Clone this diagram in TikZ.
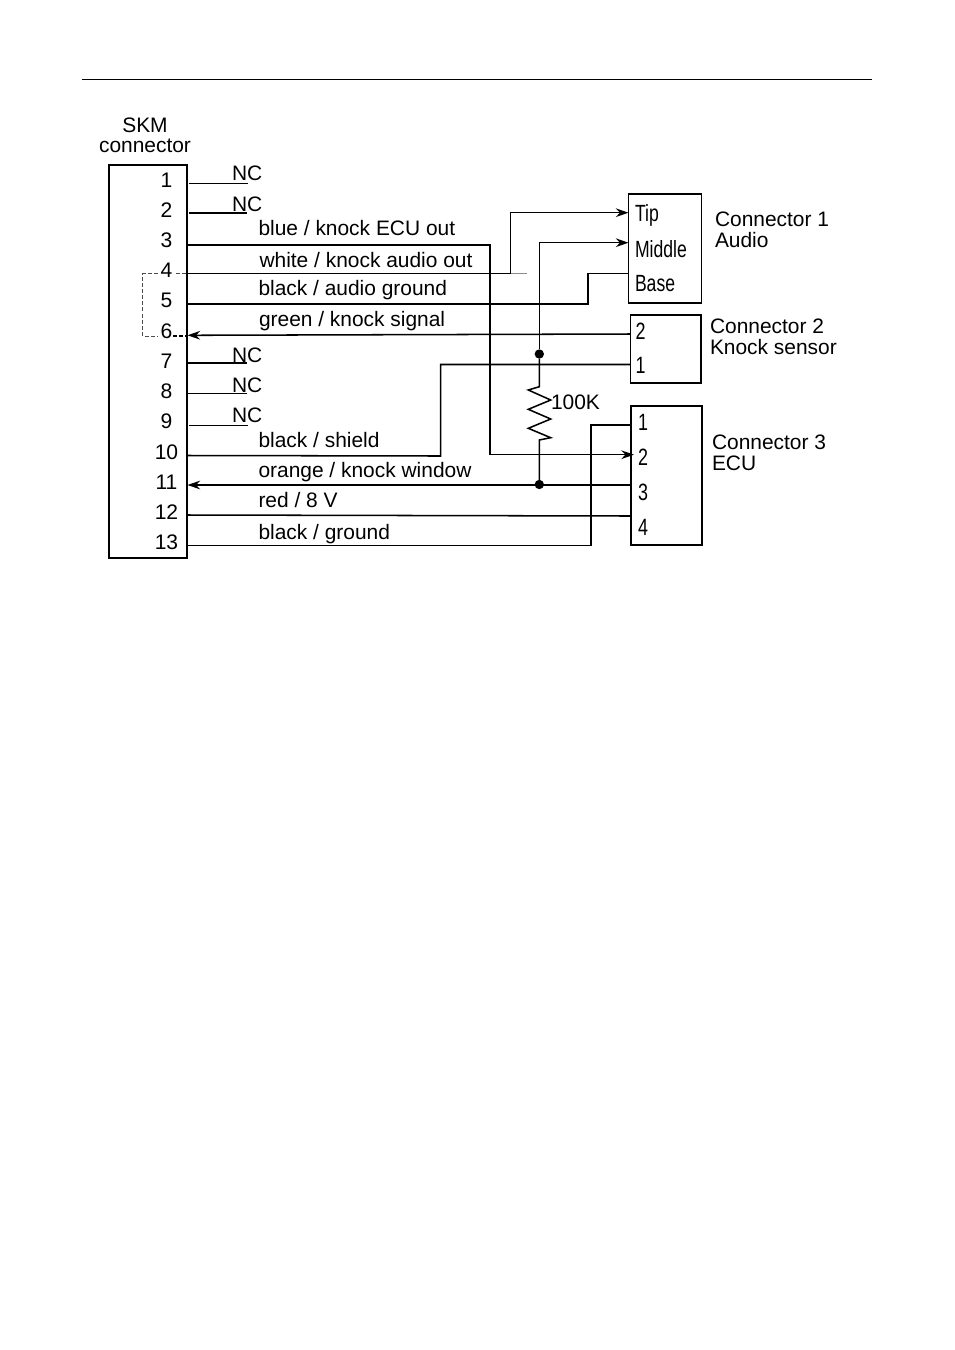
\documentclass[tikz,border=0pt]{standalone}
\usepackage{fontspec}
\setmainfont{Liberation Sans}
\usetikzlibrary{arrows.meta}
\tikzset{
  every node/.style={inner sep=0pt,outer sep=0pt,font=\fontsize{15.7pt}{18pt}\selectfont},
  lab/.style={anchor=base west},
  num/.style={anchor=base,font=\fontsize{15.8pt}{18pt}\selectfont},
  conbox/.style={draw=black,line width=1.25pt,anchor=north west},
  wire/.style={line width=1.15pt,line join=miter},
  thinw/.style={line width=0.6pt},
  medw/.style={line width=1.15pt},
  arr/.style={wire,-{Stealth[length=9.5pt,width=6.5pt]}},
  jumper/.style={line width=0.6pt,dash pattern=on 3pt off 1.6pt,draw=black!70},
  dot/.style={circle,fill=black,minimum size=7pt},
}
\newcommand{\nar}[1]{\scalebox{0.84}[1.12]{#1}}
\newcommand{\dig}[1]{\scalebox{0.85}[1.12]{#1}}
\begin{document}
\begin{tikzpicture}[x=0.75pt,y=-0.75pt]
\useasboundingbox (0,0) rectangle (954,1350);
\fill[white] (0,0) rectangle (954,1350);
% header rule
\coordinate (ruleL) at (82,79.5);
\coordinate (ruleR) at (872,79.5);
\draw[line width=0.6pt] (ruleL) -- (ruleR);
% boxes
\node[conbox,minimum width=58.5pt,minimum height=294.8pt] (skm) at (109,165) {};
\node[conbox,minimum width=54.8pt,minimum height=81.5pt] (c1) at (628.5,194) {};
\node[conbox,minimum width=52.8pt,minimum height=51.2pt] (c2) at (630.5,315) {};
\node[conbox,minimum width=53.2pt,minimum height=104.2pt] (c3) at (631,406) {};
% titles
\node[anchor=base] (t1) at (145,132) {SKM};
\node[anchor=base] (t2) at (145,152.5) {connector};
% pin numbers
\node[num] (n1) at (166.5,187) {1};
\node[num] (n2) at (166.5,217) {2};
\node[num] (n3) at (166.5,247) {3};
\node[num] (n4) at (166.5,277.5) {4};
\node[num] (n5) at (166.5,307.5) {5};
\node[num] (n6) at (166.5,338) {6};
\node[num] (n7) at (166.5,368) {7};
\node[num] (n8) at (166.5,398) {8};
\node[num] (n9) at (166.5,428) {9};
\node[num] (n10) at (166.5,459) {10};
\node[num] (n11) at (166.5,489) {11};
\node[num] (n12) at (166.5,519) {12};
\node[num] (n13) at (166.5,549) {13};
% NC labels
\node[lab] (nc1) at (232,180.5) {NC};
\node[lab] (nc2) at (232,211) {NC};
\node[lab] (nc7) at (232,362) {NC};
\node[lab] (nc8) at (232,392) {NC};
\node[lab] (nc9) at (232,422) {NC};
% wire labels
\node[lab] (l3) at (258.5,235) {blue / knock ECU out};
\node[lab] (l4) at (259.5,267.5) {white / knock audio out};
\node[lab] (l5) at (258.5,295.5) {black / audio ground};
\node[lab] (l6) at (259,326) {green / knock signal};
\node[lab] (l10) at (258.5,447) {black / shield};
\node[lab] (l11) at (258.5,477.5) {orange / knock window};
\node[lab] (l12) at (258.5,507) {red / 8 V};
\node[lab] (l13) at (258.5,539) {black / ground};
% connector labels
\node[lab] (cl1) at (715,226) {Connector 1};
\node[lab] (cl1b) at (715,247) {Audio};
\node[lab] (cl2) at (710,333) {Connector 2};
\node[lab] (cl2b) at (710,354) {Knock sensor};
\node[lab] (cl3) at (712,449) {Connector 3};
\node[lab] (cl3b) at (712,470) {ECU};
\node[lab] (rv) at (551,409) {100K};
% inner labels
\node[lab] (tip) at (635,221) {\nar{Tip}};
\node[lab] (mid) at (635,257) {\nar{Middle}};
\node[lab] (bas) at (635,291) {\nar{Base}};
\node[num] (k2) at (640.5,339) {\dig{2}};
\node[num] (k1) at (640.5,373.5) {\dig{1}};
\node[num] (e1) at (643,430.5) {\dig{1}};
\node[num] (e2) at (643,465) {\dig{2}};
\node[num] (e3) at (643,500) {\dig{3}};
\node[num] (e4) at (643,535.5) {\dig{4}};
% coordinates
\coordinate (a1) at (189,183);   \coordinate (b1) at (248,183);
\coordinate (a2) at (189,213);   \coordinate (b2) at (247,213);
\coordinate (a7) at (187,363);   \coordinate (b7) at (247,363);
\coordinate (a8) at (187,393.5); \coordinate (b8) at (247,393.5);
\coordinate (a9) at (189,425.5); \coordinate (b9) at (248,425.5);
\coordinate (p3) at (187,245);
\coordinate (v3t) at (490,245);
\coordinate (v3b) at (490,454.7);
\coordinate (e2p) at (634,454.7);
\coordinate (p4) at (187,273.5);
\coordinate (stub) at (527,273.5);
\coordinate (v4) at (510.5,273.5);
\coordinate (v4t) at (510.5,212.7);
\coordinate (tipP) at (628.5,212.7);
\coordinate (p5) at (187,304);
\coordinate (v5b) at (587.8,304);
\coordinate (v5t) at (587.8,273.5);
\coordinate (basP) at (628.5,273.5);
\coordinate (p6) at (187.5,335.3);
\coordinate (k2P) at (630.5,334);
\coordinate (k1P) at (630.5,364.5);
\coordinate (v10t) at (440.7,364.5);
\coordinate (v10b) at (440.7,456);
\coordinate (p10) at (187,455.5);
\coordinate (p11) at (187.5,485);
\coordinate (e3P) at (631,485);
\coordinate (p12) at (187,515);
\coordinate (e4P) at (631,516);
\coordinate (p13) at (187,545.5);
\coordinate (v13b) at (591,545.5);
\coordinate (v13t) at (591,425);
\coordinate (e1P) at (631,425);
\coordinate (midP) at (628.5,242.7);
\coordinate (midC) at (539.3,242.7);
\node[dot] (j1) at (539.3,354) {};
\node[dot] (j2) at (539.3,484.5) {};
% NC stubs
\draw[thinw] (a1) -- (b1);
\draw[medw] (a2) -- (b2);
\draw[medw] (a7) -- (b7);
\draw[medw] (a8) -- (b8);
\draw[thinw] (a9) -- (b9);
% wires
\draw[wire] (p3) -- (v3t) -- (v3b);
\draw[arr] (v3b) -- (e2p);
\draw[wire] (p4) -- (v4);
\draw[line width=0.8pt,draw=black!45] (v4) -- (stub);
\draw[arr] (v4) -- (v4t) -- (tipP);
\draw[wire] (p5) -- (v5b) -- (v5t) -- (basP);
\draw[arr] (k2P) -- (p6);
\draw[wire] (k1P) -- (v10t) -- (v10b) -- (p10);
\draw[arr] (e3P) -- (p11);
\draw[wire] (p12) -- (e4P);
\draw[wire] (p13) -- (v13b) -- (v13t) -- (e1P);
\draw[arr] (j1) -- (midC) -- (midP);
% resistor
\coordinate (r0) at (539.3,386.7);
\coordinate (r1) at (528.3,390);
\coordinate (r2) at (550.7,400);
\coordinate (r3) at (528.3,409.3);
\coordinate (r4) at (550.7,419);
\coordinate (r5) at (528.3,428.3);
\coordinate (r6) at (550.7,437.7);
\coordinate (r7) at (539.3,440);
\draw[wire] (j1) -- (r0) -- (r1) -- (r2) -- (r3) -- (r4) -- (r5) -- (r6) -- (r7) -- (j2);
% jumper between pins 4 and 6
\coordinate (d1) at (186,273.5);
\coordinate (d2) at (174,273.5);
\coordinate (d3) at (158,273.5);
\coordinate (d4) at (142.8,273.5);
\coordinate (d5) at (142.8,336);
\coordinate (d6) at (158,336);
\coordinate (d7) at (173,336);
\coordinate (d8) at (186,336);
\draw[jumper] (d1) -- (d2);
\draw[jumper] (d3) -- (d4) -- (d5) -- (d6);
\draw[line width=0.8pt,dash pattern=on 3pt off 1.6pt] (d7) -- (d8);
\end{tikzpicture}
\end{document}
